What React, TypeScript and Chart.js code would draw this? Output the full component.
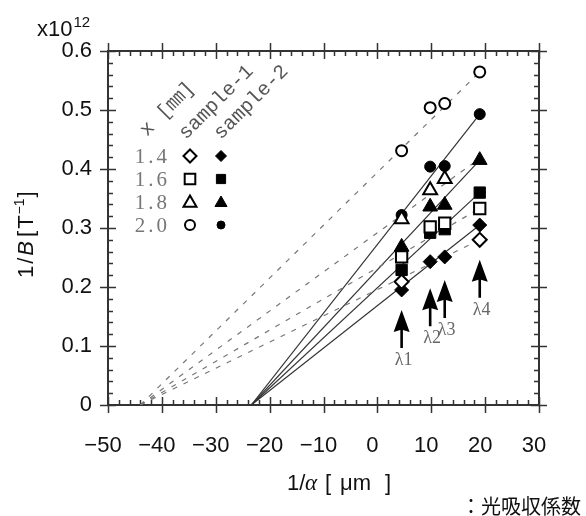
import React, { useEffect, useRef } from 'react';
import { Chart, registerables } from 'chart.js';

Chart.register(...registerables);

// ---------- axes ----------
const X_MIN = -50;
const X_MAX = 30;
const X_STEP = 10;
const X_MINOR = 2;
const Y_MIN = 0;
const Y_MAX = 0.6;
const Y_STEP = 0.1;
const Y_MINOR = 0.02;
const xTickLabels = ['−50', '−40', '−30', '−20', '−10', '0', '10', '20', '30'];
const yTickLabels = ['0', '0.1', '0.2', '0.3', '0.4', '0.5', '0.6'];

// ---------- legend ----------
const thicknessLabels = ['1.4', '1.6', '1.8', '2.0'];
const markerStyles = ['rectRot', 'rect', 'triangle', 'circle'];
const sampleHeaders = ['x [㎜]', 'sample-1', 'sample-2'];

// ---------- wavelengths (arrows) ----------
const wavelengthLabels = ['λ1', 'λ2', 'λ3', 'λ4'];
const wavelengthX = [4.5, 9.8, 12.5, 19];
const arrowTipY = [0.161, 0.198, 0.212, 0.246];

// ---------- sample-1 (open markers) ----------
const s1DiamondX = [4.5, 19];
const s1DiamondY = [0.209, 0.28];
const s1SquareX = [4.5, 9.8, 12.5, 19];
const s1SquareY = [0.251, 0.302, 0.308, 0.333];
const s1TriangleX = [4.5, 9.8, 12.5];
const s1TriangleY = [0.315, 0.364, 0.383];
const s1CircleX = [4.5, 9.8, 12.5, 19];
const s1CircleY = [0.431, 0.504, 0.511, 0.5645];

// ---------- sample-2 (filled markers) ----------
const s2DiamondX = [4.5, 9.8, 12.5, 19];
const s2DiamondY = [0.195, 0.243, 0.251, 0.305];
const s2SquareX = [4.5, 9.8, 12.5, 19];
const s2SquareY = [0.229, 0.292, 0.298, 0.36];
const s2TriangleX = [4.5, 9.8, 12.5, 19];
const s2TriangleY = [0.268, 0.336, 0.339, 0.415];
const s2CircleX = [4.5, 9.8, 12.5, 19];
const s2CircleY = [0.322, 0.404, 0.405, 0.493];

// ---------- fitted lines (diamond, square, triangle, circle) ----------
const s1InterceptX = -44;
const s2InterceptX = -23.4;
const fitEndX = 19;
const s1FitEndY = [0.28, 0.333, 0.418, 0.5645];
const s2FitEndY = [0.305, 0.36, 0.415, 0.493];

const zip = (xs: number[], ys: number[]) => xs.map((x, i) => ({ x, y: ys[i] }));

const openRadius: Record<string, number> = { rectRot: 7, rect: 8, triangle: 8, circle: 5.5 };
const filledRadius: Record<string, number> = { rectRot: 7, rect: 8, triangle: 8.5, circle: 5.5 };

function pointSet(xs: number[], ys: number[], style: string, filled: boolean) {
  return {
    data: zip(xs, ys),
    showLine: false,
    pointStyle: style,
    pointRadius: filled ? filledRadius[style] : openRadius[style],
    pointHoverRadius: filled ? filledRadius[style] : openRadius[style],
    backgroundColor: filled ? '#000' : '#fff',
    borderColor: '#000',
    pointBorderWidth: filled ? 1 : 2,
    borderWidth: filled ? 1 : 2,
    order: filled ? 2 : 1,
  };
}

function lineSet(x0: number, yEnd: number, dashed: boolean) {
  return {
    data: [
      { x: x0, y: 0 },
      { x: fitEndX, y: yEnd },
    ],
    showLine: true,
    pointRadius: 0,
    pointHoverRadius: 0,
    borderColor: dashed ? '#777' : '#333',
    borderWidth: 1.2,
    borderDash: dashed ? [5, 7] : [],
    fill: false,
    order: 3,
  };
}

function drawMarker(ctx: CanvasRenderingContext2D, style: string, x: number, y: number, r: number, filled: boolean) {
  ctx.beginPath();
  if (style === 'circle') {
    ctx.arc(x, y, r, 0, Math.PI * 2);
  } else if (style === 'rect') {
    const s = Math.SQRT1_2 * r;
    ctx.rect(x - s, y - s, 2 * s, 2 * s);
  } else if (style === 'rectRot') {
    ctx.moveTo(x - r, y);
    ctx.lineTo(x, y - r);
    ctx.lineTo(x + r, y);
    ctx.lineTo(x, y + r);
    ctx.closePath();
  } else {
    let a = 0;
    ctx.moveTo(x + Math.sin(a) * r, y - Math.cos(a) * r);
    a += (2 * Math.PI) / 3;
    ctx.lineTo(x + Math.sin(a) * r, y - Math.cos(a) * r);
    a += (2 * Math.PI) / 3;
    ctx.lineTo(x + Math.sin(a) * r, y - Math.cos(a) * r);
    ctx.closePath();
  }
  ctx.fillStyle = filled ? '#000' : '#fff';
  ctx.fill();
  ctx.lineWidth = filled ? 1 : 2;
  ctx.strokeStyle = '#000';
  ctx.stroke();
}

const frameTicksPlugin = {
  id: 'frameTicks',
  beforeDatasetsDraw(chart: any) {
    const { ctx, chartArea: a, scales } = chart;
    const xs = scales.x;
    const ys = scales.y;
    ctx.save();
    ctx.strokeStyle = '#333';
    ctx.lineWidth = 2;
    ctx.strokeRect(a.left, a.top, a.right - a.left, a.bottom - a.top);
    ctx.lineWidth = 1.5;
    const MAJ = 8;
    const MIN = 5;
    const nx = Math.round((X_MAX - X_MIN) / X_MINOR);
    for (let i = 0; i <= nx; i++) {
      const v = X_MIN + i * X_MINOR;
      const px = Math.round(xs.getPixelForValue(v)) + 0.5;
      const major = Math.abs(v / X_STEP - Math.round(v / X_STEP)) < 1e-6;
      ctx.beginPath();
      if (major) {
        ctx.moveTo(px, a.bottom - MAJ);
        ctx.lineTo(px, a.bottom + MAJ);
        ctx.moveTo(px, a.top - MAJ);
        ctx.lineTo(px, a.top + MAJ);
      } else {
        ctx.moveTo(px, a.bottom);
        ctx.lineTo(px, a.bottom - MIN);
        ctx.moveTo(px, a.top);
        ctx.lineTo(px, a.top + MIN);
      }
      ctx.stroke();
    }
    const ny = Math.round((Y_MAX - Y_MIN) / Y_MINOR);
    for (let i = 0; i <= ny; i++) {
      const v = Y_MIN + i * Y_MINOR;
      const py = Math.round(ys.getPixelForValue(v)) + 0.5;
      const major = Math.abs(v / Y_STEP - Math.round(v / Y_STEP)) < 1e-6;
      ctx.beginPath();
      if (major) {
        ctx.moveTo(a.left - MAJ, py);
        ctx.lineTo(a.left + MAJ, py);
        ctx.moveTo(a.right - MAJ, py);
        ctx.lineTo(a.right + MAJ, py);
      } else {
        ctx.moveTo(a.left, py);
        ctx.lineTo(a.left + MIN, py);
        ctx.moveTo(a.right, py);
        ctx.lineTo(a.right - MIN, py);
      }
      ctx.stroke();
    }
    ctx.restore();
  },
  afterDraw(chart: any) {
    const { ctx, scales } = chart;
    const xs = scales.x;
    const ys = scales.y;
    ctx.save();

    // x10^12
    ctx.fillStyle = '#111';
    ctx.textBaseline = 'alphabetic';
    ctx.textAlign = 'left';
    ctx.font = '22px "Liberation Sans"';
    ctx.fillText('x10', 37, 36);
    const wx = ctx.measureText('x10').width;
    ctx.font = '15px "Liberation Sans"';
    ctx.fillText('12', 37 + wx + 1, 27);

    // y title (rotated)
    ctx.save();
    ctx.translate(33, 278);
    ctx.rotate(-Math.PI / 2);
    let cx = 0;
    const piece = (t: string, font: string, dy = 0, gap = 2) => {
      ctx.font = font;
      ctx.fillText(t, cx, dy);
      cx += ctx.measureText(t).width + gap;
    };
    piece('1', '22px "Liberation Sans"');
    piece('/', '22px "Liberation Sans"');
    piece('B', 'italic 22px "Liberation Sans"', 0, 4);
    piece('[', '22px "Liberation Sans"');
    piece('T', '22px "Liberation Sans"', 0, 1);
    piece('−1', '14px "Liberation Sans"', -9, 1);
    piece(']', '22px "Liberation Sans"');
    ctx.restore();

    // x title
    ctx.font = '22px "Liberation Sans"';
    ctx.fillText('1/', 287, 490);
    ctx.font = 'italic 23px "Liberation Serif"';
    ctx.fillText('α', 305, 490);
    ctx.font = '22px "Liberation Sans"';
    ctx.fillText('[', 325, 490);
    ctx.fillText('μm', 340, 490);
    ctx.fillText(']', 385, 490);

    // Japanese note
    ctx.font = '20px "Noto Sans CJK JP"';
    ctx.fillStyle = '#111';
    ctx.fillText('：光吸収係数', 461, 514);

    // legend header (rotated)
    ctx.fillStyle = '#555';
    ctx.font = '20px "Liberation Mono", "Noto Sans CJK JP"';
    const headerAnchors = [
      [147, 137],
      [186, 140],
      [221, 140],
    ];
    sampleHeaders.forEach((t, i) => {
      ctx.save();
      ctx.translate(headerAnchors[i][0], headerAnchors[i][1]);
      ctx.rotate(-Math.PI / 4);
      ctx.fillText(t, 0, 0);
      ctx.restore();
    });

    // legend rows
    const legendTop = 156;
    const rowH = 23;
    thicknessLabels.forEach((t, i) => {
      const yy = legendTop + i * rowH;
      ctx.fillStyle = '#777';
      ctx.font = '21px "Liberation Serif"';
      ctx.textAlign = 'right';
      ctx.textBaseline = 'middle';
      (ctx as any).letterSpacing = '3px';
      ctx.fillText(t, 170, yy + 1);
      (ctx as any).letterSpacing = '0px';
      const st = markerStyles[i];
      drawMarker(ctx, st, 190, yy + (st === 'triangle' ? 1 : 0), openRadius[st] - 0.5, false);
      drawMarker(ctx, st, 221, yy + (st === 'triangle' ? 1 : 0), filledRadius[st] - 1.5, true);
    });

    // arrows
    ctx.textAlign = 'center';
    ctx.textBaseline = 'middle';
    wavelengthLabels.forEach((lab, i) => {
      const px = xs.getPixelForValue(wavelengthX[i]);
      const tip = ys.getPixelForValue(arrowTipY[i]);
      const headL = 22;
      const headW = 8;
      const total = 38;
      ctx.fillStyle = '#000';
      ctx.beginPath();
      ctx.moveTo(px, tip);
      ctx.lineTo(px + headW, tip + headL);
      ctx.lineTo(px + 1.3, tip + headL - 2);
      ctx.lineTo(px + 1.3, tip + total);
      ctx.lineTo(px - 1.3, tip + total);
      ctx.lineTo(px - 1.3, tip + headL - 2);
      ctx.lineTo(px - headW, tip + headL);
      ctx.closePath();
      ctx.fill();
      ctx.fillStyle = '#666';
      ctx.font = '18px "Liberation Serif"';
      ctx.fillText(lab, px + 2, tip + total + 12);
    });

    ctx.restore();
  },
};

export default function App() {
  const canvasRef = useRef<HTMLCanvasElement | null>(null);

  useEffect(() => {
    if (!canvasRef.current) return;
    const datasets: any[] = [
      pointSet(s1DiamondX, s1DiamondY, 'rectRot', false),
      pointSet(s1SquareX, s1SquareY, 'rect', false),
      pointSet(s1TriangleX, s1TriangleY, 'triangle', false),
      pointSet(s1CircleX, s1CircleY, 'circle', false),
      pointSet(s2DiamondX, s2DiamondY, 'rectRot', true),
      pointSet(s2SquareX, s2SquareY, 'rect', true),
      pointSet(s2TriangleX, s2TriangleY, 'triangle', true),
      pointSet(s2CircleX, s2CircleY, 'circle', true),
      ...s1FitEndY.map((y) => lineSet(s1InterceptX, y, true)),
      ...s2FitEndY.map((y) => lineSet(s2InterceptX, y, false)),
    ];
    const chart = new Chart(canvasRef.current, {
      type: 'scatter',
      data: { datasets },
      options: {
        responsive: false,
        animation: false,
        devicePixelRatio: 1,
        layout: { padding: { left: 0, right: 47, top: 51, bottom: 0 } },
        plugins: { legend: { display: false }, tooltip: { enabled: false } },
        scales: {
          x: {
            type: 'linear',
            min: X_MIN,
            max: X_MAX,
            grid: { display: false, drawTicks: false },
            border: { display: false },
            afterFit: (s: any) => {
              s.height = 111;
            },
            ticks: {
              stepSize: X_STEP,
              autoSkip: false,
              maxRotation: 0,
              padding: 28,
              labelOffset: -5,
              color: '#111',
              font: { family: '"Liberation Sans"', size: 22 },
              callback: (_v: any, i: number) => xTickLabels[i],
            },
          },
          y: {
            type: 'linear',
            min: Y_MIN,
            max: Y_MAX,
            grid: { display: false, drawTicks: false },
            border: { display: false },
            afterFit: (s: any) => {
              s.width = 108;
            },
            ticks: {
              stepSize: Y_STEP,
              autoSkip: false,
              padding: 16,
              color: '#111',
              font: { family: '"Liberation Sans"', size: 22 },
              callback: (_v: any, i: number) => yTickLabels[i],
            },
          },
        },
      },
      plugins: [frameTicksPlugin],
    });
    return () => chart.destroy();
  }, []);

  return (
    <div style={{ position: 'fixed', left: 0, top: 0, width: 586, height: 516, background: '#fff' }}>
      <canvas ref={canvasRef} width={586} height={516} />
    </div>
  );
}
